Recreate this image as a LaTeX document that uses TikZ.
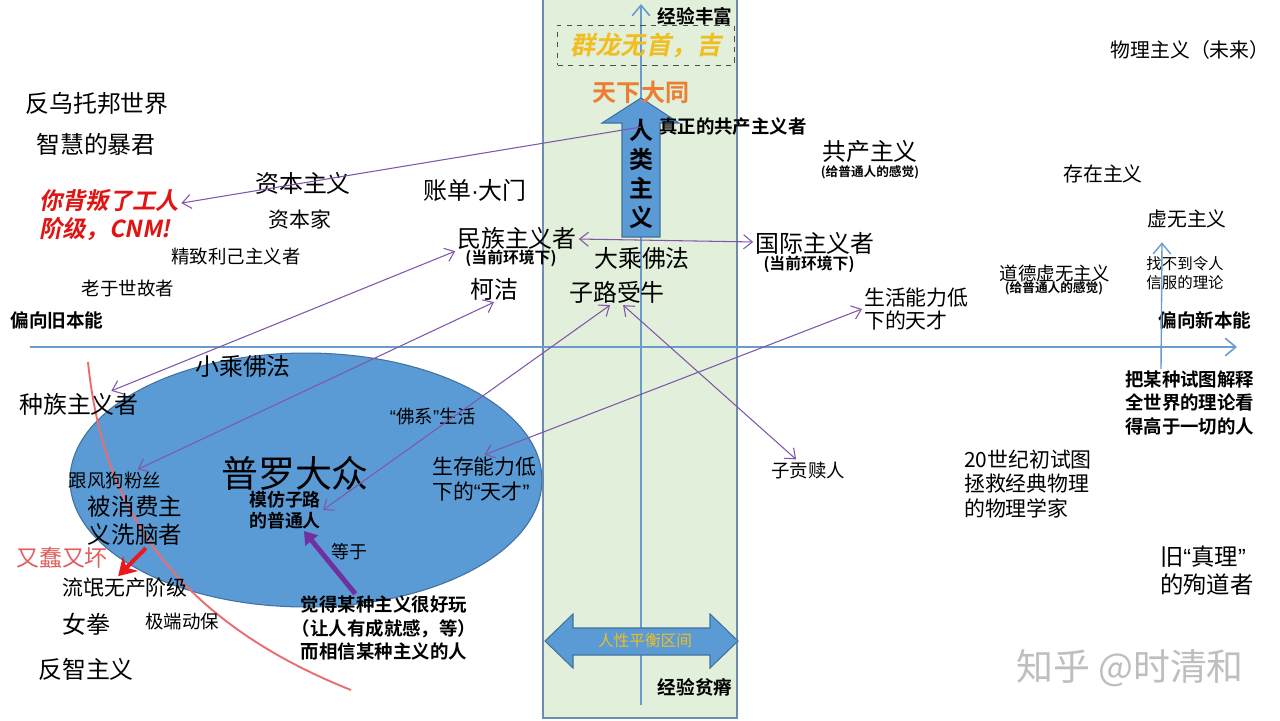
\documentclass[tikz,border=0pt]{standalone}
\usepackage{fontspec}
\setmainfont{Noto Sans CJK SC}[BoldFont={Noto Sans CJK SC Bold}]
\newfontfamily\slantbf{Noto Sans CJK SC Bold}[FakeSlant=0.2]
\newfontfamily\latinf{Liberation Sans}
\usetikzlibrary{arrows.meta}
\newcommand{\fsz}[2]{\fontsize{#1pt}{#2pt}\selectfont}
\newcommand{\qopen}{{\latinf “}}
\newcommand{\qclose}{{\latinf ”}}
\definecolor{axisblue}{RGB}{105,155,205}
\definecolor{bandgreen}{RGB}{226,239,218}
\definecolor{bandedge}{RGB}{110,140,175}
\definecolor{shapeblue}{RGB}{91,155,213}
\definecolor{shapeedge}{RGB}{65,113,156}
\definecolor{linkpurple}{RGB}{128,86,170}
\definecolor{thickpurple}{RGB}{112,48,160}
\definecolor{redtext}{RGB}{225,20,20}
\definecolor{arrowred}{RGB}{235,25,30}
\definecolor{curvered}{RGB}{232,110,115}
\definecolor{pinkred}{RGB}{225,95,95}
\definecolor{gold}{RGB}{240,190,30}
\definecolor{orangetx}{RGB}{237,125,49}
\definecolor{wmgray}{RGB}{190,190,190}

\begin{document}
\begin{tikzpicture}
                [
                x=0.02cm, y=-0.02cm,
                lbl/.style={inner sep=1pt, align=center},
                tbig/.style={lbl, font=\fsz{13.6}{16.4}},
                tnorm/.style={lbl, font=\fsz{11.3}{13.6}},
                tmid/.style={lbl, font=\fsz{11.9}{14.2}},
                tsml/.style={lbl, font=\fsz{10.5}{13.3}},
                hd/.style={lbl, font=\bfseries\fsz{10.6}{13.3}},
                env/.style={lbl, font=\bfseries\fsz{9}{11}},
                feel/.style={lbl, font=\bfseries\fsz{7.2}{9}},
                link/.style={<->, draw=linkpurple, line width=0.6pt, >={Straight Barb[length=5pt,width=8pt]}},
                axisline/.style={->, draw=axisblue, line width=0.9pt, >={Straight Barb[length=6pt,width=10pt]}},
                bluefill/.style={fill=shapeblue, draw=shapeedge, line width=0.6pt}
                ]
            \useasboundingbox[fill=white] (0,0) rectangle (1280,720);
            % band and axes
            \fill[bandgreen] (543,-5) rectangle (737,718);
            \draw[bandedge, line width=0.7pt] (543,-5) rectangle (737,718);
            \coordinate (vb) at (641,705);
            \coordinate (vt) at (641,4);
            \coordinate (hl) at (30,347);
            \coordinate (hr) at (1237,347);
            \draw[axisline] (vb) -- (vt);
            \draw[axisline] (hl) -- (hr);
            \draw[bluefill] (306,480) ellipse [x radius=4.72cm, y radius=2.54cm];
            \draw[bluefill] (622,237) -- (622,123) -- (602,123) -- (641,98) -- (679,123) -- (660,123) -- (660,237) -- cycle;
            \draw[bluefill] (545,641) -- (573,614) -- (573,628) -- (710,628) -- (710,614) -- (738,641) -- (710,668) -- (710,655) -- (573,655) -- (573,668) -- cycle;
            \draw[curvered, line width=1.1pt] (88,362) .. controls (100,480) and (150,610) .. (351,690);
            % top
            \node[hd] (jyf) at (695,16) {经验丰富};
            \node[draw=black!70, dashed, inner sep=1pt, minimum width=3.54cm, minimum height=0.8cm,
                  font=\slantbf\fsz{14.3}{16}, text=gold] (ql) at (646,45) {群龙无首，吉};
            \node[lbl, font=\bfseries\fsz{13.7}{16}, text=orangetx] (txdt) at (641,92) {天下大同};
            \node[lbl, font=\bfseries\fsz{13.6}{16.4}] (rl) at (641,174) {人\\类\\主\\义};
            \node[lbl, font=\bfseries\fsz{10.5}{13}, anchor=west] (zgc) at (657,127) {真正的共产主义者};
            \node[tnorm] (wl) at (1190,50) {物理主义（未来）};
            % left
            \node[tbig] (fw) at (97,103) {反乌托邦世界};
            \node[tbig] (zh) at (96,144) {智慧的暴君};
            \node[lbl, anchor=west, align=left, text=redtext, font=\slantbf\fsz{13.3}{16.4}] (red) at (37,215) {你背叛了工人\\阶级，CNM!};
            \node[tbig] (zb) at (303,183) {资本主义};
            \node[tmid] (zbj) at (300,219) {资本家};
            \node[tsml] (jz) at (236,256) {精致利己主义者};
            \node[tsml] (lg) at (128,288) {老于世故者};
            \node[hd] (pj) at (57,320) {偏向旧本能};
            % middle
            \node[tbig] (zd) at (475,190) {账单{\latinf ·}大门};
            \node[tbig] (mz) at (517,238) {民族主义者};
            \node[env] (mzs) at (511,258) {(当前环境下)};
            \node[tbig] (kj) at (494,289) {柯洁};
            \node[tbig] (dc) at (642,258) {大乘佛法};
            \node[tbig] (zl) at (617,292) {子路受牛};
            % right
            \node[tbig] (gj) at (815,243) {国际主义者};
            \node[env] (gjs) at (809,264) {(当前环境下)};
            \node[tbig] (gc) at (870,151) {共产主义};
            \node[feel] (gcs) at (870,172) {(给普通人的感觉)};
            \node[tnorm] (cz) at (1103,174) {存在主义};
            \node[tnorm] (xw) at (1187,219) {虚无主义};
            \node[lbl, font=\fsz{8.8}{10.8}] (zbd) at (1185,273) {找不到令人\\信服的理论};
            \node[tsml] (dd) at (1055,273) {道德虚无主义};
            \node[feel] (dds) at (1054,288) {(给普通人的感觉)};
            \node[lbl, anchor=west, align=left, font=\fsz{11.9}{13.6}] (shtc) at (862,309) {生活能力低\\下的天才};
            \node[hd] (px) at (1205,320) {偏向新本能};
            \node[lbl, anchor=west, align=left, font=\bfseries\fsz{10.5}{13.3}] (bz) at (1123,403) {把某种试图解释\\全世界的理论看\\得高于一切的人};
            \node[tsml] (zg) at (808,470) {子贡赎人};
            \node[tmid, anchor=west, align=left] (wj) at (962,484) {20世纪初试图\\拯救经典物理\\的物理学家};
            \node[lbl, anchor=west, align=left, font=\fsz{13.3}{15.9}] (jzl) at (1158,571) {旧\qopen 真理\qclose\\的殉道者};
            % ellipse and below
            \node[tbig] (xc) at (243,366) {小乘佛法};
            \node[tbig] (zz) at (79,404) {种族主义者};
            \node[tsml] (fx) at (433,417) {\qopen 佛系\qclose 生活};
            \node[lbl, font=\fsz{21}{24}] (pl) at (295,473) {普罗大众};
            \node[lbl, font=\bfseries\fsz{10.2}{11.9}] (mf) at (285,510) {模仿子路\\的普通人};
            \node[tsml] (gf) at (115,480) {跟风狗粉丝};
            \node[lbl, font=\fsz{13.4}{15.9}] (xn) at (135,521) {被消费主\\义洗脑者};
            \node[tmid, anchor=west, align=left] (sc) at (430,479) {生存能力低\\下的\qopen 天才\qclose};
            \node[lbl, font=\fsz{10.2}{12}] (dy) at (349,552) {等于};
            \node[lbl, font=\bfseries\fsz{10.5}{13.3}] (jd) at (384,628) {觉得某种主义很好玩\\（让人有成就感，等）\\而相信某种主义的人};
            \node[lbl, font=\fsz{13}{15}, text=pinkred] (ych) at (62,558) {又蠢又坏};
            \node[tmid] (lm) at (125,588) {流氓无产阶级};
            \node[tbig] (nq) at (86,624) {女拳};
            \node[tsml] (jdb) at (182,621) {极端动保};
            \node[tbig] (fz) at (86,669) {反智主义};
            \node[lbl, font=\fsz{8.9}{10}, text=gold] (rx) at (645,641) {人性平衡区间};
            \node[hd] (jyp) at (695,687) {经验贫瘠};
            \node[lbl, font=\fsz{21}{24}, text=wmgray] (zhihu) at (1130,668) {知乎 @时清和};
            % connectors
            \coordinate (rt) at (641,127);
            \draw[link, ->] (rt) -- (red);
            \draw[link] (mz) -- (gj);
            \draw[link] (mz.south west) -- (zz);
            \draw[link] (kj.south) -- (gf);
            \draw[link] (zl.-118) -- (mf.east);
            \draw[link] (zl.-65) -- (zg);
            \draw[link] (shtc.west) -- (sc.north);
            \draw[axisline, line width=0.8pt] (bz.130) -- ([xshift=-0.5cm, yshift=-0.24cm]xw.south);
            \draw[thickpurple, line width=2.8pt, -{Triangle[length=7pt,width=9pt]}] (jd.130) -- (mf.-48);
            \draw[arrowred, line width=2.3pt, -{Stealth[length=10pt,width=12pt]}] (xn.-68) -- (lm.120);
            \end{tikzpicture}
\end{document}
